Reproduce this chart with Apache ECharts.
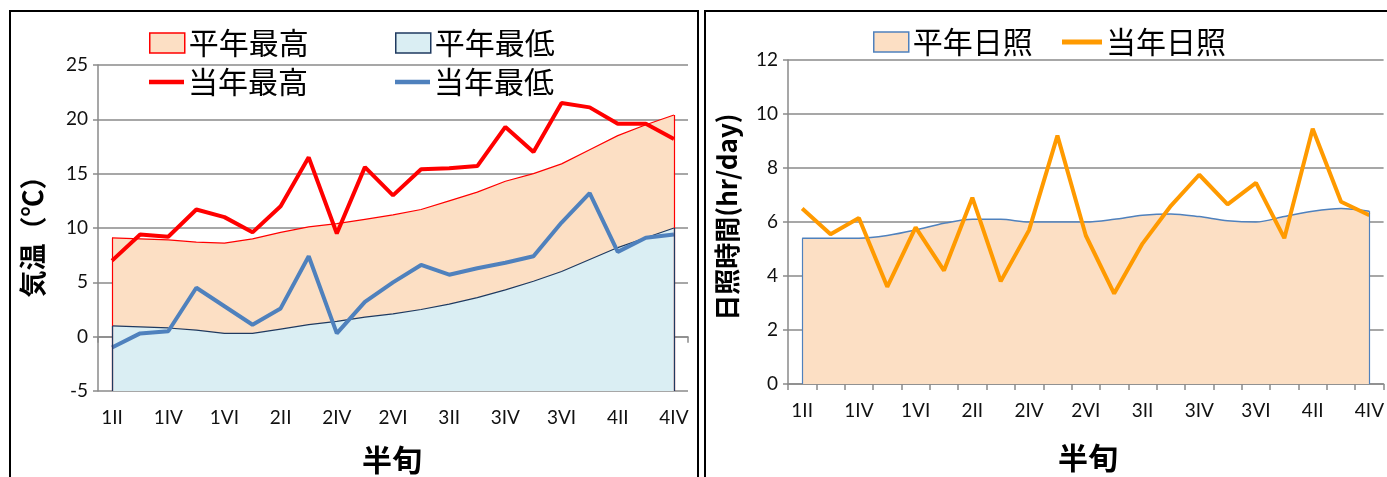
<!DOCTYPE html>
<html><head><meta charset="utf-8">
<script src="https://cdn.jsdelivr.net/npm/echarts@6/dist/echarts.min.js"></script>
<style>
html,body{margin:0;padding:0;background:#fff;overflow:hidden}
#c{position:absolute;left:0;top:0;width:1387px;height:477px}
.frame{position:absolute;border:2px solid #000;box-sizing:border-box;pointer-events:none}
</style></head><body>
<div id="c"></div>
<div class="frame" style="left:9px;top:10px;width:690px;height:500px"></div>
<div class="frame" style="left:704px;top:10px;width:700px;height:500px"></div>
<script>
// ---- data ----
const categories = ['1II','1III','1IV','1V','1VI','2I','2II','2III','2IV','2V','2VI','3I','3II','3III','3IV','3V','3VI','4I','4II','4III','4IV'];
const normalHigh = [9.1,9.0,8.9,8.7,8.6,9.0,9.6,10.1,10.4,10.8,11.2,11.7,12.5,13.3,14.3,15.0,15.9,17.2,18.5,19.5,20.4];
const normalLow  = [1.0,0.9,0.8,0.6,0.3,0.3,0.7,1.1,1.4,1.8,2.1,2.5,3.0,3.6,4.3,5.1,6.0,7.1,8.2,9.1,10.0];
const currentHigh = [7.0,9.4,9.2,11.7,11.0,9.6,12.0,16.5,9.5,15.6,13.0,15.4,15.5,15.7,19.3,17.0,21.5,21.1,19.6,19.6,18.2];
const currentLow  = [-1.0,0.3,0.5,4.5,2.8,1.1,2.6,7.4,0.3,3.2,5.0,6.6,5.7,6.3,6.8,7.4,10.5,13.2,7.8,9.1,9.4];
const normalSun  = [5.4,5.4,5.4,5.5,5.7,5.95,6.1,6.1,6.0,6.0,6.0,6.1,6.25,6.3,6.2,6.05,6.0,6.2,6.4,6.5,6.4];
const currentSun = [6.5,5.55,6.15,3.6,5.8,4.2,6.9,3.8,5.7,9.2,5.5,3.35,5.2,6.6,7.75,6.65,7.45,5.4,9.45,6.75,6.25];
const tempTicks = {min:-5, max:25, interval:5};
const sunTicks = {min:0, max:12, interval:2};

const PEACH = '#FCDFC4', LBLUE = '#DAEEF3', RED = '#FF0000', NAVY = '#1F3A60', BLUE = '#4F81BD', ORANGE = '#FF9A00';
const LAT = 'Lato, "Noto Sans CJK JP", sans-serif';
const CJK = '"Noto Sans CJK JP", sans-serif';
const GRID = '#8A8A8A';

function edges(data, base, color){
  const n = data.length - 1;
  return {
    silent:true, symbol:['none','none'], label:{show:false},
    lineStyle:{color:color, width:1.2, type:'solid'},
    emphasis:{disabled:true},
    data:[
      [{coord:[categories[0], base]},{coord:[categories[0], data[0]]}],
      [{coord:[categories[n], base]},{coord:[categories[n], data[n]]}]
    ]
  };
}

function xAxis(gi){
  return {
    type:'category', gridIndex:gi, data:categories, boundaryGap:true,
    axisLine:{lineStyle:{color:GRID, width:1.5}},
    axisTick:{show:true, interval:0, length:6, lineStyle:{color:GRID, width:1.5}},
    axisLabel:{interval:1, color:'#111', fontSize:19, fontFamily:LAT, margin:17}
  };
}
function yAxis(gi, t){
  return {
    type:'value', gridIndex:gi, min:t.min, max:t.max, interval:t.interval,
    axisLine:{show:true, lineStyle:{color:GRID, width:1.5}},
    axisTick:{show:true, length:5, lineStyle:{color:GRID, width:1.5}},
    splitLine:{lineStyle:{color:GRID, width:1.5}},
    axisLabel:{color:'#111', fontSize:19, fontFamily:LAT, margin:10}
  };
}

function legend(name, left, top, icon, itemStyle, w, h){
  return {
    left:left, top:top, itemWidth:w, itemHeight:h, itemGap:0, padding:0,
    icon:icon, selectedMode:false,
    textStyle:{fontSize:30, fontFamily:CJK, color:'#000', padding:[0,0,0,-1]},
    data:[{name:name, icon:icon, itemStyle:itemStyle}]
  };
}
const LINEICON = 'path://M0,0H40V5H0Z';

const chart = echarts.init(document.getElementById('c'), null, {renderer:'canvas'});
chart.setOption({
  animation:false,
  grid:[
    {left:98, top:65, width:590, height:326},
    {left:788, top:60, width:596, height:324}
  ],
  xAxis:[xAxis(0), xAxis(1)],
  yAxis:[yAxis(0, tempTicks), yAxis(1, sunTicks)],
  legend:[
    legend('平年最高', 149, 28, 'rect', {color:PEACH, borderColor:RED, borderWidth:1.5}, 35, 20),
    legend('平年最低', 395, 28, 'rect', {color:LBLUE, borderColor:NAVY, borderWidth:1.5}, 35, 20),
    legend('当年最高', 149, 67, LINEICON, {color:RED}, 35, 20),
    legend('当年最低', 395, 67, LINEICON, {color:BLUE}, 35, 20),
    legend('平年日照', 873, 27, 'rect', {color:PEACH, borderColor:BLUE, borderWidth:1.5}, 35, 20),
    legend('当年日照', 1062, 27, LINEICON, {color:ORANGE}, 40, 20)
  ],
  graphic:[
    {type:'text', x:33, y:230, rotation:Math.PI/2, style:{text:'気温（℃）', font:'bold 27px "Noto Sans CJK JP", sans-serif', fill:'#000', align:'center', verticalAlign:'middle'}},
    {type:'text', x:727, y:217, rotation:Math.PI/2, style:{text:'日照時間(hr/day)', font:'bold 26px "Noto Sans CJK JP", sans-serif', fill:'#000', align:'center', verticalAlign:'middle'}},
    {type:'text', x:392, y:460, style:{text:'半旬', font:'bold 30px "Noto Sans CJK JP", sans-serif', fill:'#000', align:'center', verticalAlign:'middle'}},
    {type:'text', x:1088, y:458, style:{text:'半旬', font:'bold 30px "Noto Sans CJK JP", sans-serif', fill:'#000', align:'center', verticalAlign:'middle'}}
  ],
  series:[
    {name:'平年最高', type:'line', xAxisIndex:0, yAxisIndex:0, data:normalHigh, symbol:'none', z:1,
     itemStyle:{color:PEACH}, lineStyle:{color:RED, width:1.2}, areaStyle:{color:PEACH, opacity:1, origin:'start'},
     markLine:edges(normalHigh, tempTicks.min, RED)},
    {name:'平年最低', type:'line', xAxisIndex:0, yAxisIndex:0, data:normalLow, symbol:'none', z:2,
     itemStyle:{color:LBLUE}, lineStyle:{color:NAVY, width:1.2}, areaStyle:{color:LBLUE, opacity:1, origin:'start'},
     markLine:edges(normalLow, tempTicks.min, NAVY)},
    {name:'当年最高', type:'line', xAxisIndex:0, yAxisIndex:0, data:currentHigh, symbol:'none', z:3,
     itemStyle:{color:RED}, lineStyle:{color:RED, width:4}},
    {name:'当年最低', type:'line', xAxisIndex:0, yAxisIndex:0, data:currentLow, symbol:'none', z:3,
     itemStyle:{color:BLUE}, lineStyle:{color:BLUE, width:4}},
    {name:'平年日照', type:'line', xAxisIndex:1, yAxisIndex:1, data:normalSun, symbol:'none', z:1, smooth:0.3,
     itemStyle:{color:PEACH}, lineStyle:{color:BLUE, width:1.5}, areaStyle:{color:PEACH, opacity:1, origin:'start'},
     markLine:edges(normalSun, sunTicks.min, BLUE)},
    {name:'当年日照', type:'line', xAxisIndex:1, yAxisIndex:1, data:currentSun, symbol:'none', z:3,
     itemStyle:{color:ORANGE}, lineStyle:{color:ORANGE, width:4}}
  ]
});
</script>
</body></html>
